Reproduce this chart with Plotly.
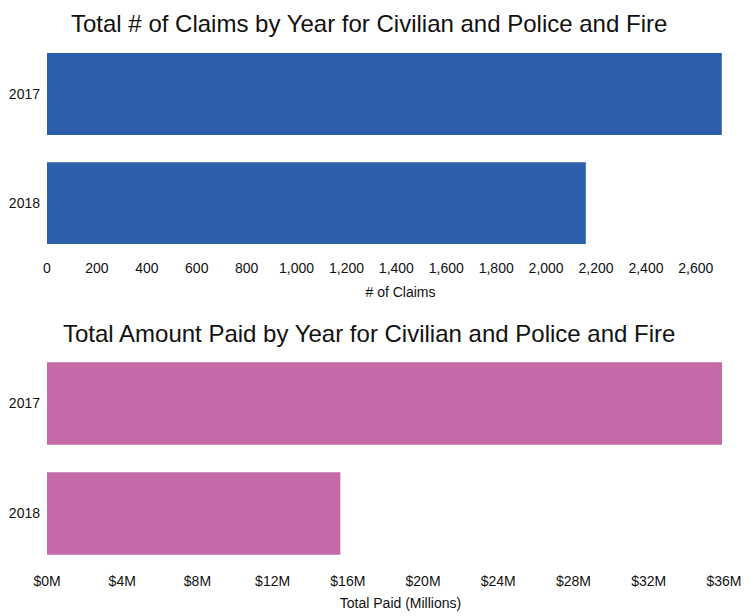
import plotly.graph_objects as go
from plotly.subplots import make_subplots

# data
years = ["2017", "2018"]
claims = [2704, 2159]
paid_millions = [35.9, 15.6]

claim_ticks = list(range(0, 2601, 200))
paid_ticks = list(range(0, 37, 4))
paid_labels = ["$%dM" % v for v in paid_ticks]

FONT = "Liberation Sans, Arial, sans-serif"
BLUE = "#2c5fab"
PINK = "#c46aa8"

# the page has an 8px body margin, so the figure is drawn 8px smaller
W, H = 746, 608

fig = make_subplots(rows=2, cols=1)

fig.add_trace(go.Bar(
    y=years, x=claims, orientation="h",
    marker=dict(color=BLUE, line=dict(width=0)),
    hoverinfo="x+y",
), row=1, col=1)

fig.add_trace(go.Bar(
    y=years, x=paid_millions, orientation="h",
    marker=dict(color=PINK, line=dict(width=0)),
    hoverinfo="x+y",
), row=2, col=1)

axis_common = dict(showgrid=False, zeroline=False, showline=False,
                   ticks="", automargin=False,
                   tickfont=dict(size=14))

fig.update_layout(
    width=W, height=H,
    margin=dict(l=39, r=0, t=0, b=0),
    paper_bgcolor="white",
    plot_bgcolor="white",
    showlegend=False,
    font=dict(family=FONT, size=14, color="#111"),
    bargap=0.25,
    xaxis=dict(
        domain=[0, 1], range=[0, 2833], tickvals=claim_ticks, tickformat=",d",
        ticklabelstandoff=0,
        title=dict(text="# of Claims", font=dict(size=14), standoff=12),
        **axis_common,
    ),
    xaxis2=dict(
        domain=[0, 1], range=[0, 37.6], tickvals=paid_ticks, ticktext=paid_labels,
        ticklabelstandoff=2,
        title=dict(text="Total Paid (Millions)", font=dict(size=14), standoff=10),
        **axis_common,
    ),
    yaxis=dict(domain=[0.5896, 0.9482], autorange="reversed",
               ticklabelstandoff=6, **axis_common),
    yaxis2=dict(domain=[0.0781, 0.44], autorange="reversed",
                ticklabelstandoff=6, **axis_common),
    annotations=[
        dict(text="Total # of Claims by Year for Civilian and Police and Fire",
             x=0.456, y=1, xref="paper", yref="paper",
             xanchor="center", yanchor="top", showarrow=False,
             font=dict(size=24, color="#111")),
        dict(text="Total Amount Paid by Year for Civilian and Police and Fire",
             x=0.455, y=1 - 325 / H, xref="paper", yref="paper",
             xanchor="center", yanchor="middle", showarrow=False,
             font=dict(size=24, color="#111")),
    ],
)

fig.write_html("out.html")
